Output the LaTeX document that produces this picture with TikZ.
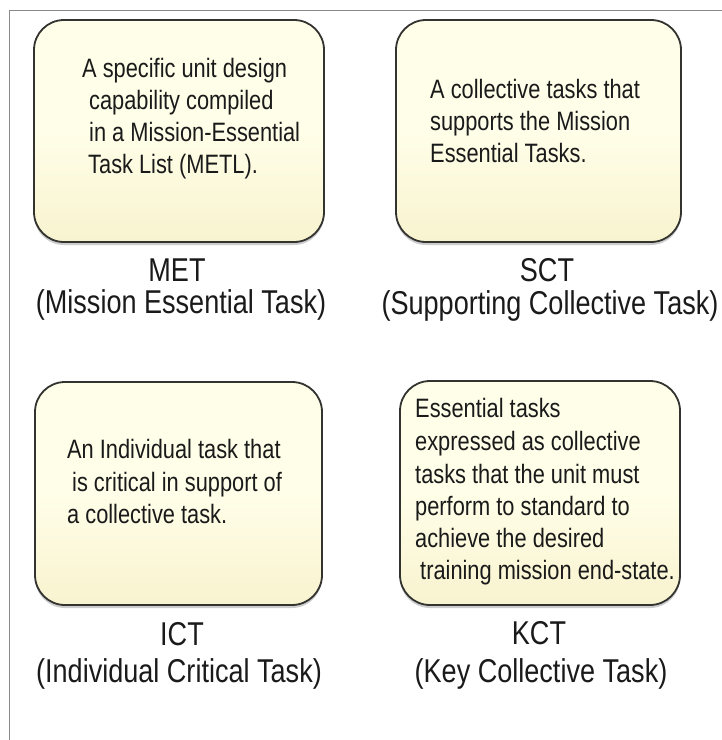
\documentclass[tikz,border=0pt]{standalone}
\usepackage{fontspec}
\setmainfont{Liberation Sans}[FakeStretch=0.82]
\usetikzlibrary{shadows}
\definecolor{boxtop}{HTML}{FFFEE8}
\definecolor{boxbot}{HTML}{F8F3CF}
\definecolor{boxline}{HTML}{333330}
\definecolor{txt}{HTML}{1A1A1A}
\definecolor{frame}{HTML}{8A8A8A}
\tikzset{
  taskbox/.style={draw=boxline, line width=1.8pt, rounded corners=30pt,
    top color=boxtop, bottom color=boxbot, middle color=boxtop,
    drop shadow={opacity=0.4, shadow xshift=0pt, shadow yshift=-3pt},
    inner sep=0pt},
  body/.style={anchor=base west, inner sep=0pt, text=txt,
    font=\fontsize{26.6}{32}\selectfont},
  lbl/.style={anchor=base, inner sep=0pt, text=txt,
    font=\fontsize{33}{38}\selectfont},
}
\begin{document}
\begin{tikzpicture}[x=1pt, y=-1pt]
\useasboundingbox[fill=white] (0,0) rectangle (722,740);
\draw[frame, line width=1.5pt] (9.5,740) -- (9.5,10.5) -- (722,10.5);
% boxes
\node[taskbox, minimum width=290pt, minimum height=222pt] (met) at (179,131) {};
\node[taskbox, minimum width=285pt, minimum height=222pt] (sct) at (538.5,131) {};
\node[taskbox, minimum width=287pt, minimum height=223pt] (ict) at (178.5,493.5) {};
\node[taskbox, minimum width=280pt, minimum height=224pt] (kct) at (540,493) {};
% MET text
\node[body] (met1) at (82,77) {A specific unit design};
\node[body] (met2) at (89,109) {capability compiled};
\node[body] (met3) at (89,141) {in a Mission-Essential};
\node[body] (met4) at (88,173) {Task List (METL).};
% SCT text
\node[body] (sct1) at (430,98) {A collective tasks that};
\node[body] (sct2) at (430,130) {supports the Mission};
\node[body] (sct3) at (430,162) {Essential Tasks.};
% ICT text
\node[body] (ict1) at (67,458) {An Individual task that};
\node[body] (ict2) at (72,491) {is critical in support of};
\node[body] (ict3) at (67,523) {a collective task.};
% KCT text
\node[body] (kct1) at (415,417) {Essential tasks};
\node[body] (kct2) at (415,450) {expressed as collective};
\node[body] (kct3) at (415,483) {tasks that the unit must};
\node[body] (kct4) at (415,515) {perform to standard to};
\node[body] (kct5) at (415,547) {achieve the desired};
\node[body] (kct6) at (420,579) {training mission end-state.};
% labels
\node[lbl] (metA) at (177,281) {MET};
\node[lbl] (metB) at (181,313) {(Mission Essential Task)};
\node[lbl] (sctA) at (547,281) {SCT};
\node[lbl] (sctB) at (550,314) {(Supporting Collective Task)};
\node[lbl] (ictA) at (182,645) {ICT};
\node[lbl] (ictB) at (179,682) {(Individual Critical Task)};
\node[lbl] (kctA) at (539,644) {KCT};
\node[lbl] (kctB) at (541,682) {(Key Collective Task)};
\end{tikzpicture}
\end{document}
